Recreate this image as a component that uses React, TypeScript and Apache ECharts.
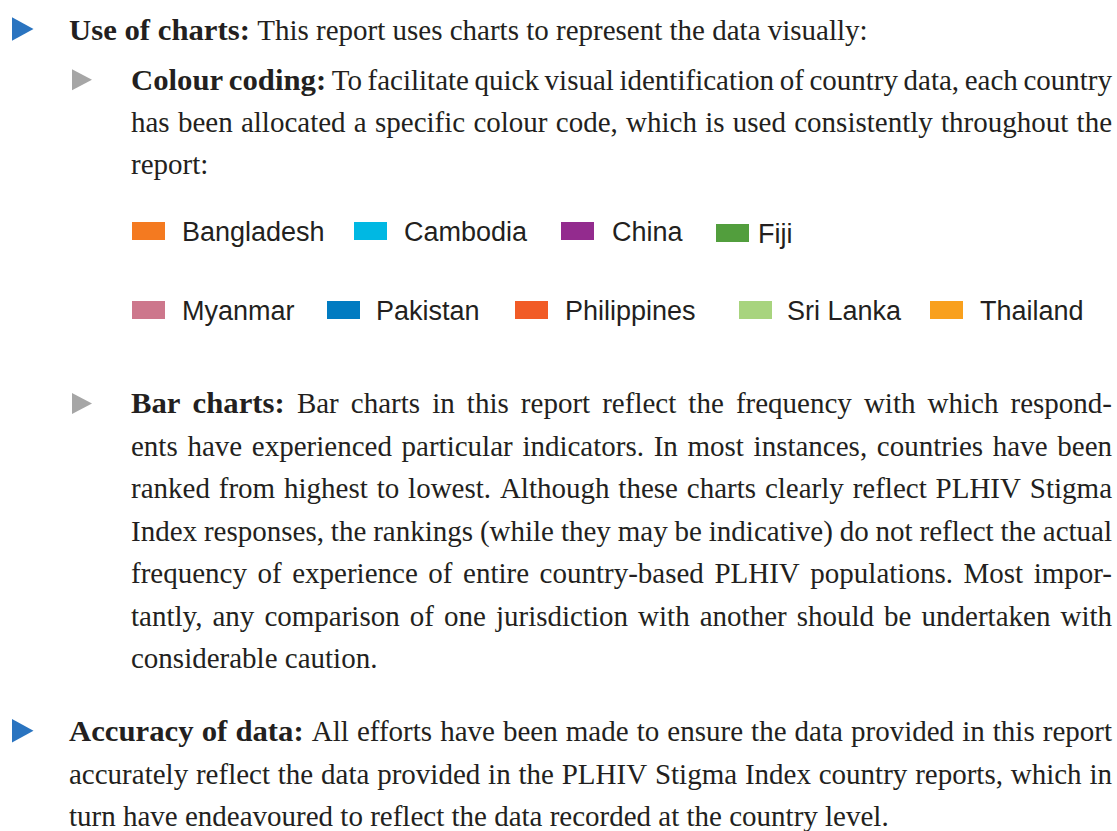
import React, { useEffect, useRef } from 'react';
import * as echarts from 'echarts';

// ---------- data ----------
const COUNTRIES = ['Bangladesh', 'Cambodia', 'China', 'Fiji', 'Myanmar', 'Pakistan', 'Philippines', 'Sri Lanka', 'Thailand'];
const COUNTRY_COLORS = ['#F47A20', '#00B8E3', '#932B8E', '#529E3D', '#CD778C', '#017BC1', '#F15B26', '#A8D47E', '#F9A01D'];

type Line = { bold: string; text: string; justify: boolean };

const PARA_USE: Line[] = [
  { bold: 'Use of charts:', text: 'This report uses charts to represent the data visually:', justify: false },
];
const PARA_COLOUR: Line[] = [
  { bold: 'Colour coding:', text: 'To facilitate quick visual identification of country data, each country', justify: true },
  { bold: '', text: 'has been allocated a specific colour code, which is used consistently throughout the', justify: true },
  { bold: '', text: 'report:', justify: false },
];
const PARA_BAR: Line[] = [
  { bold: 'Bar charts:', text: 'Bar charts in this report reflect the frequency with which respond-', justify: true },
  { bold: '', text: 'ents have experienced particular indicators. In most instances, countries have been', justify: true },
  { bold: '', text: 'ranked from highest to lowest. Although these charts clearly reflect PLHIV Stigma', justify: true },
  { bold: '', text: 'Index responses, the rankings (while they may be indicative) do not reflect the actual', justify: true },
  { bold: '', text: 'frequency of experience of entire country-based PLHIV populations. Most impor-', justify: true },
  { bold: '', text: 'tantly, any comparison of one jurisdiction with another should be undertaken with', justify: true },
  { bold: '', text: 'considerable caution.', justify: false },
];
const PARA_ACCURACY: Line[] = [
  { bold: 'Accuracy of data:', text: 'All efforts have been made to ensure the data provided in this report', justify: true },
  { bold: '', text: 'accurately reflect the data provided in the PLHIV Stigma Index country reports, which in', justify: true },
  { bold: '', text: 'turn have endeavoured to reflect the data recorded at the country level.', justify: false },
];

// ---------- layout ----------
const W = 1117;
const H = 831;
const RIGHT = 1112;
const BODY_SIZE = 29;
const BOLD_SCALE = 1.06;
const BODY_FAMILY = '"Liberation Serif", "Times New Roman", serif';
const LEGEND_SIZE = 27;
const LEGEND_FAMILY = '"Liberation Sans", Arial, sans-serif';
const INK = '#231F20';

const PARAGRAPHS = [
  { lines: PARA_USE, x: 69, first: 39.3, step: 42.8, bullet: 'main' },
  { lines: PARA_COLOUR, x: 131, first: 89.3, step: 42.4, bullet: 'sub' },
  { lines: PARA_BAR, x: 131, first: 413, step: 42.5, bullet: 'sub' },
  { lines: PARA_ACCURACY, x: 69, first: 741, step: 42.5, bullet: 'main' },
];

const LEGEND_SWATCH_X = [132, 354, 561, 716, 132, 327, 515, 739, 930];
const LEGEND_TEXT_X = [182, 404, 612, 758, 182, 376, 565, 787, 980];
const LEGEND_TOP = [222, 222, 222, 224, 301, 301, 301, 301, 301];
const SWATCH_W = 33;
const SWATCH_H = 18;

let ctx: CanvasRenderingContext2D | null = null;
function measure(text: string, font: string): number {
  if (!ctx) ctx = document.createElement('canvas').getContext('2d');
  if (!ctx) return text.length * 12;
  ctx.font = font;
  return ctx.measureText(text).width;
}

function buildGraphic() {
  const els: any[] = [];
  const regFont = `${BODY_SIZE}px ${BODY_FAMILY}`;
  const boldFont = `bold ${BODY_SIZE}px ${BODY_FAMILY}`;
  const central = BODY_SIZE * 0.3375;
  const wordWidth = (w: string, bold: boolean) =>
    bold ? measure(w, boldFont) * BOLD_SCALE : measure(w, regFont);

  const addText = (text: string, x: number, baseline: number, bold: boolean) => {
    els.push({
      type: 'text',
      x,
      y: baseline - central,
      scaleX: bold ? BOLD_SCALE : 1,
      silent: true,
      style: {
        text,
        fill: INK,
        fontSize: BODY_SIZE,
        fontFamily: BODY_FAMILY,
        fontWeight: bold ? 'bold' : 'normal',
        align: 'left',
        verticalAlign: 'middle',
      },
    });
  };

  PARAGRAPHS.forEach((p) => {
    const bl0 = p.first;
    if (p.bullet === 'main') {
      const x0 = p.x - 57;
      els.push({
        type: 'polygon',
        silent: true,
        shape: { points: [[x0, bl0 - 22], [x0, bl0 + 1.5], [x0 + 21.5, bl0 - 10.3]] },
        style: { fill: '#2A74C0' },
      });
    } else {
      const x0 = p.x - 59;
      els.push({
        type: 'polygon',
        silent: true,
        shape: { points: [[x0, bl0 - 20], [x0, bl0 + 1], [x0 + 20, bl0 - 9.5]] },
        style: { fill: '#A6A6A6' },
      });
    }

    p.lines.forEach((ln, i) => {
      const baseline = bl0 + i * p.step;
      const words: { w: string; bold: boolean }[] = [];
      if (ln.bold) ln.bold.split(' ').forEach((w) => words.push({ w, bold: true }));
      if (ln.justify) {
        ln.text.split(' ').forEach((w) => words.push({ w, bold: false }));
        const widths = words.map((o) => wordWidth(o.w, o.bold));
        const total = widths.reduce((a, b) => a + b, 0);
        const gap = (RIGHT - p.x - total) / (words.length - 1);
        let x = p.x;
        words.forEach((o, k) => {
          addText(o.w, x, baseline, o.bold);
          x += widths[k] + gap;
        });
      } else {
        let x = p.x;
        if (ln.bold) {
          addText(ln.bold, x, baseline, true);
          x += wordWidth(ln.bold, true) + measure(' ', regFont);
        }
        addText(ln.text, x, baseline, false);
      }
    });
  });

  // legend
  COUNTRIES.forEach((name, i) => {
    const top = LEGEND_TOP[i];
    els.push({
      type: 'rect',
      silent: true,
      shape: { x: LEGEND_SWATCH_X[i], y: top, width: SWATCH_W, height: SWATCH_H },
      style: { fill: COUNTRY_COLORS[i] },
    });
    els.push({
      type: 'text',
      silent: true,
      x: LEGEND_TEXT_X[i],
      y: top + SWATCH_H - LEGEND_SIZE * 0.3,
      style: {
        text: name,
        fill: INK,
        fontSize: LEGEND_SIZE,
        fontFamily: LEGEND_FAMILY,
        align: 'left',
        verticalAlign: 'middle',
      },
    });
  });

  return els;
}

export default function App() {
  const ref = useRef<HTMLDivElement>(null);
  useEffect(() => {
    if (!ref.current) return;
    const chart = echarts.init(ref.current, undefined, { renderer: 'svg' });
    chart.setOption({
      animation: false,
      backgroundColor: '#ffffff',
      graphic: { elements: buildGraphic() },
    });
    return () => chart.dispose();
  }, []);
  return (
    <div
      ref={ref}
      style={{ position: 'fixed', left: 0, top: 0, width: W, height: H, background: '#fff' }}
    />
  );
}
